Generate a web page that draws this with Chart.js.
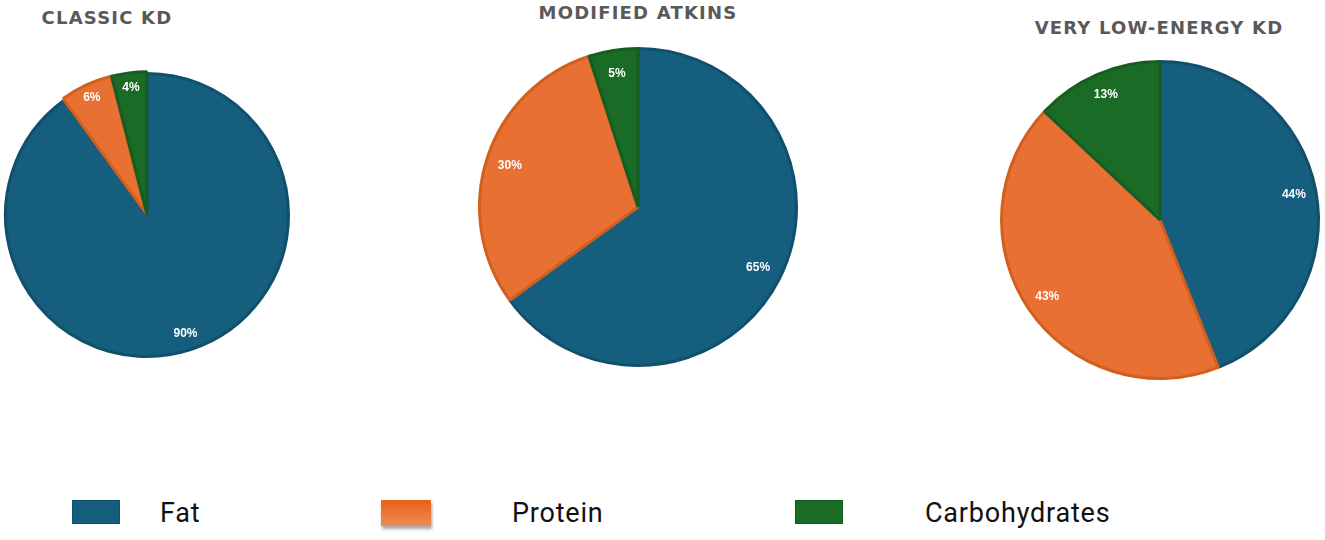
<!DOCTYPE html>
<html>
<head>
<meta charset="utf-8">
<script src="https://cdn.jsdelivr.net/npm/chart.js@4.4.1/dist/chart.umd.min.js"></script>
<style>
  html, body { margin:0; padding:0; background:#fff; width:1325px; height:540px; overflow:hidden; }
  .pie { position:absolute; }
  .title { position:absolute; font-family:'DejaVu Sans', sans-serif; font-weight:bold; font-size:18px; color:#595959; letter-spacing:1.2px; white-space:nowrap; line-height:1; transform:translate(-50%,-50%); }
  .lg-box { position:absolute; width:48px; height:24px; box-sizing:border-box; }
  .lg-text { position:absolute; font-family:Roboto, sans-serif; font-size:27px; letter-spacing:0.8px; color:#111; line-height:1; transform:translateY(-50%); white-space:nowrap; }
</style>
</head>
<body>
<script>
// ---- data ----
const categories = ['Fat', 'Protein', 'Carbohydrates'];
const dietNames = ['CLASSIC KD', 'MODIFIED ATKINS', 'VERY LOW-ENERGY KD'];
const classicKD = [90, 6, 4];
const modifiedAtkins = [65, 30, 5];
const veryLowEnergyKD = [44, 43, 13];

// ---- styles ----
const fillColors = ['#155e7e', '#e87033', '#1a6b26'];
const edgeColors = ['#11506d', '#d1601f', '#175d21'];

const layouts = [
  { cx:147, cy:215, r:143, offset:[0,5,4], lf:0.88, tx:107, ty:18, values:classicKD },
  { cx:638, cy:207, r:160, offset:0, lf:0.85, tx:638, ty:13, values:modifiedAtkins },
  { cx:1160, cy:220, r:160, offset:0, lf:0.86, tx:1159, ty:28, values:veryLowEnergyKD }
];

const labelPlugin = {
  id: 'sliceLabels',
  afterDatasetsDraw(chart, args, opts) {
    const ctx = chart.ctx;
    const meta = chart.getDatasetMeta(0);
    const vals = chart.data.datasets[0].data;
    ctx.save();
    ctx.fillStyle = '#ffffff';
    ctx.font = 'bold 12px "Liberation Sans", Arial, sans-serif';
    ctx.textAlign = 'center';
    ctx.textBaseline = 'middle';
    meta.data.forEach((arc, i) => {
      const p = arc.getProps(['x','y','startAngle','endAngle','outerRadius']);
      const mid = (p.startAngle + p.endAngle) / 2;
      const off = Array.isArray(chart.data.datasets[0].offset) ? chart.data.datasets[0].offset[i] : 0;
      const d = p.outerRadius * opts.factor + off;
      ctx.fillText(vals[i] + '%', p.x + Math.cos(mid) * d, p.y + Math.sin(mid) * d);
    });
    ctx.restore();
  }
};

const bw = 3;
layouts.forEach((L, k) => {
  const S = 2 * (L.r + 12);
  const div = document.createElement('div');
  div.className = 'pie';
  div.style.left = (L.cx - S/2) + 'px';
  div.style.top = (L.cy - S/2) + 'px';
  div.style.width = S + 'px';
  div.style.height = S + 'px';
  const cv = document.createElement('canvas');
  cv.width = S; cv.height = S;
  div.appendChild(cv);
  document.body.appendChild(div);

  const t = document.createElement('div');
  t.className = 'title';
  t.textContent = dietNames[k];
  t.style.left = L.tx + 'px';
  t.style.top = L.ty + 'px';
  document.body.appendChild(t);

  new Chart(cv, {
    type: 'pie',
    data: {
      labels: categories,
      datasets: [{
        data: L.values,
        backgroundColor: fillColors,
        borderColor: edgeColors,
        borderWidth: bw,
        offset: L.offset
      }]
    },
    options: {
      responsive: false,
      animation: false,
      events: [],
      radius: L.r - bw/2,
      layout: { padding: 0 },
      plugins: {
        legend: { display: false },
        tooltip: { enabled: false },
        sliceLabels: { factor: L.lf }
      }
    },
    plugins: [labelPlugin]
  });
});

// ---- legend ----
const legendPos = [
  { bx:72, by:500, tx:160 },
  { bx:381, by:500, tx:512 },
  { bx:795, by:500, tx:925 }
];
categories.forEach((c, i) => {
  const P = legendPos[i];
  const b = document.createElement('div');
  b.className = 'lg-box';
  b.style.left = P.bx + 'px';
  b.style.top = P.by + 'px';
  if (i === 1) {
    b.style.width = '50px';
    b.style.height = '26px';
    b.style.background = 'linear-gradient(#e8601a, #f08a55)';
    b.style.boxShadow = '1px 3px 3px rgba(0,0,0,0.35)';
  } else {
    b.style.background = fillColors[i];
    b.style.border = '1px solid ' + edgeColors[i];
  }
  document.body.appendChild(b);
  const t = document.createElement('div');
  t.className = 'lg-text';
  t.textContent = c;
  t.style.left = P.tx + 'px';
  t.style.top = '513px';
  document.body.appendChild(t);
});
</script>
</body>
</html>
